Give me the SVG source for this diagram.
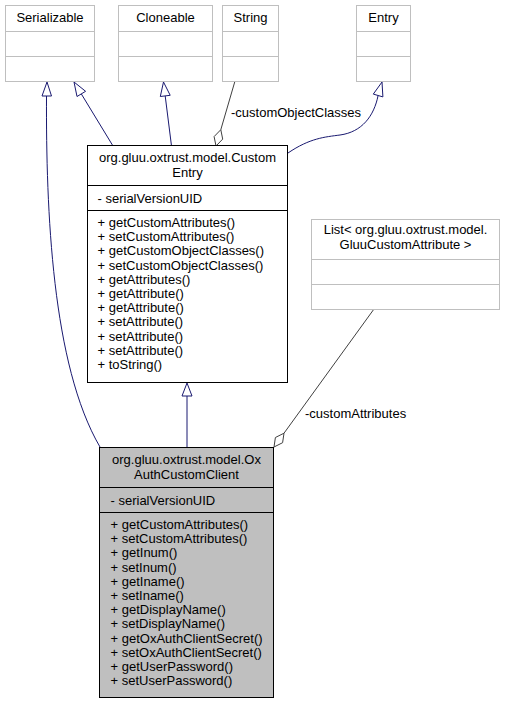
<svg xmlns="http://www.w3.org/2000/svg" width="505" height="705" viewBox="0 0 505 705">
<style>
text{font-family:"Liberation Sans",Arial,sans-serif;font-size:13px;fill:#000}
.c{text-anchor:middle}
.ext{fill:#fff;stroke:#bfbfbf;stroke-width:1}
.ent{fill:#fff;stroke:#000;stroke-width:1}
.cur{fill:#bfbfbf;stroke:#000;stroke-width:1}
.sepg{stroke:#bfbfbf;stroke-width:1}
.sepk{stroke:#000;stroke-width:1}
.inh{fill:none;stroke:#191970;stroke-width:1}
.inhh{fill:#fff;stroke:#191970;stroke-width:1}
.agg{fill:none;stroke:#404040;stroke-width:1}
.aggh{fill:#fff;stroke:#404040;stroke-width:1}
</style>
<rect width="505" height="705" fill="#fff"/>
<g id="connectors">
<path class="inh" d="M100,447 C52,365 46,210 46.5,96"/>
<polygon class="inhh" points="47,82 51.5,96 42,96"/>
<path class="inh" d="M113,146 L81.3,93.9"/>
<polygon class="inhh" points="74,82 85.6,91.3 77,96.5"/>
<path class="inh" d="M171.5,146 L165.2,95.9"/>
<polygon class="inhh" points="163.5,82 170.2,95.3 160.3,96.5"/>
<path class="agg" d="M235,81 L220.8,129.7"/>
<polygon class="aggh" points="216,146 214.1,136.6 220.8,129.7 222.7,139.1"/>
<text x="231" y="117">-customObjectClasses</text>
<path class="inh" d="M288,153 C310,138 325,137 340,135 C362,132 374,116 378.1,95.5"/>
<polygon class="inhh" points="382,82 382.9,96.9 373.3,94.1"/>
<path class="inh" d="M187,447 L187,396"/>
<polygon class="inhh" points="187,383 192,396 182,396"/>
<path class="agg" d="M374,309 L284,433.2"/>
<polygon class="aggh" points="274,447 275.4,437.5 284,433.2 282.6,442.7"/>
<text x="305" y="418">-customAttributes</text>
</g>
<g id="Serializable">
<rect class="ext" x="5.5" y="5.5" width="89" height="76"/>
<line class="sepg" x1="5.5" y1="31.5" x2="94.5" y2="31.5"/>
<line class="sepg" x1="5.5" y1="56.5" x2="94.5" y2="56.5"/>
<text class="c" x="50" y="22">Serializable</text>
</g>
<g id="Cloneable">
<rect class="ext" x="118.5" y="5.5" width="94" height="76"/>
<line class="sepg" x1="118.5" y1="31.5" x2="212.5" y2="31.5"/>
<line class="sepg" x1="118.5" y1="56.5" x2="212.5" y2="56.5"/>
<text class="c" x="165.5" y="22">Cloneable</text>
</g>
<g id="String">
<rect class="ext" x="222.5" y="5.5" width="56" height="76"/>
<line class="sepg" x1="222.5" y1="31.5" x2="278.5" y2="31.5"/>
<line class="sepg" x1="222.5" y1="56.5" x2="278.5" y2="56.5"/>
<text class="c" x="250.5" y="22">String</text>
</g>
<g id="Entry">
<rect class="ext" x="356.5" y="5.5" width="54" height="76"/>
<line class="sepg" x1="356.5" y1="31.5" x2="410.5" y2="31.5"/>
<line class="sepg" x1="356.5" y1="56.5" x2="410.5" y2="56.5"/>
<text class="c" x="383.5" y="22">Entry</text>
</g>
<g id="List">
<rect class="ext" x="311.5" y="219.5" width="188" height="90"/>
<line class="sepg" x1="311.5" y1="259.5" x2="499.5" y2="259.5"/>
<line class="sepg" x1="311.5" y1="284.5" x2="499.5" y2="284.5"/>
<text class="c" x="405.5" y="234">List&lt; org.gluu.oxtrust.model.</text>
<text class="c" x="405.5" y="249">GluuCustomAttribute &gt;</text>
</g>
<g id="CustomEntry">
<rect class="ent" x="87.5" y="145.5" width="200" height="237"/>
<line class="sepk" x1="87.5" y1="185.5" x2="287.5" y2="185.5"/>
<line class="sepk" x1="87.5" y1="210.5" x2="287.5" y2="210.5"/>
<text class="c" x="187.5" y="162">org.gluu.oxtrust.model.Custom</text>
<text class="c" x="187.5" y="177">Entry</text>
<text x="97.5" y="203">- serialVersionUID</text>
<text x="97.5" y="227">+ getCustomAttributes()</text>
<text x="97.5" y="241.2">+ setCustomAttributes()</text>
<text x="97.5" y="255.4">+ getCustomObjectClasses()</text>
<text x="97.5" y="269.6">+ setCustomObjectClasses()</text>
<text x="97.5" y="283.8">+ getAttributes()</text>
<text x="97.5" y="298">+ getAttribute()</text>
<text x="97.5" y="312.2">+ getAttribute()</text>
<text x="97.5" y="326.4">+ setAttribute()</text>
<text x="97.5" y="340.6">+ setAttribute()</text>
<text x="97.5" y="354.8">+ setAttribute()</text>
<text x="97.5" y="369">+ toString()</text>
</g>
<g id="OxAuthCustomClient">
<rect class="cur" x="99.5" y="447.5" width="174" height="250"/>
<line class="sepk" x1="99.5" y1="487.5" x2="273.5" y2="487.5"/>
<line class="sepk" x1="99.5" y1="512.5" x2="273.5" y2="512.5"/>
<text class="c" x="186.5" y="464">org.gluu.oxtrust.model.Ox</text>
<text class="c" x="186.5" y="479">AuthCustomClient</text>
<text x="110.5" y="505">- serialVersionUID</text>
<text x="110.5" y="529">+ getCustomAttributes()</text>
<text x="110.5" y="543.2">+ setCustomAttributes()</text>
<text x="110.5" y="557.4">+ getInum()</text>
<text x="110.5" y="571.6">+ setInum()</text>
<text x="110.5" y="585.8">+ getIname()</text>
<text x="110.5" y="600">+ setIname()</text>
<text x="110.5" y="614.2">+ getDisplayName()</text>
<text x="110.5" y="628.4">+ setDisplayName()</text>
<text x="110.5" y="642.6">+ getOxAuthClientSecret()</text>
<text x="110.5" y="656.8">+ setOxAuthClientSecret()</text>
<text x="110.5" y="671">+ getUserPassword()</text>
<text x="110.5" y="685.2">+ setUserPassword()</text>
</g>
</svg>
